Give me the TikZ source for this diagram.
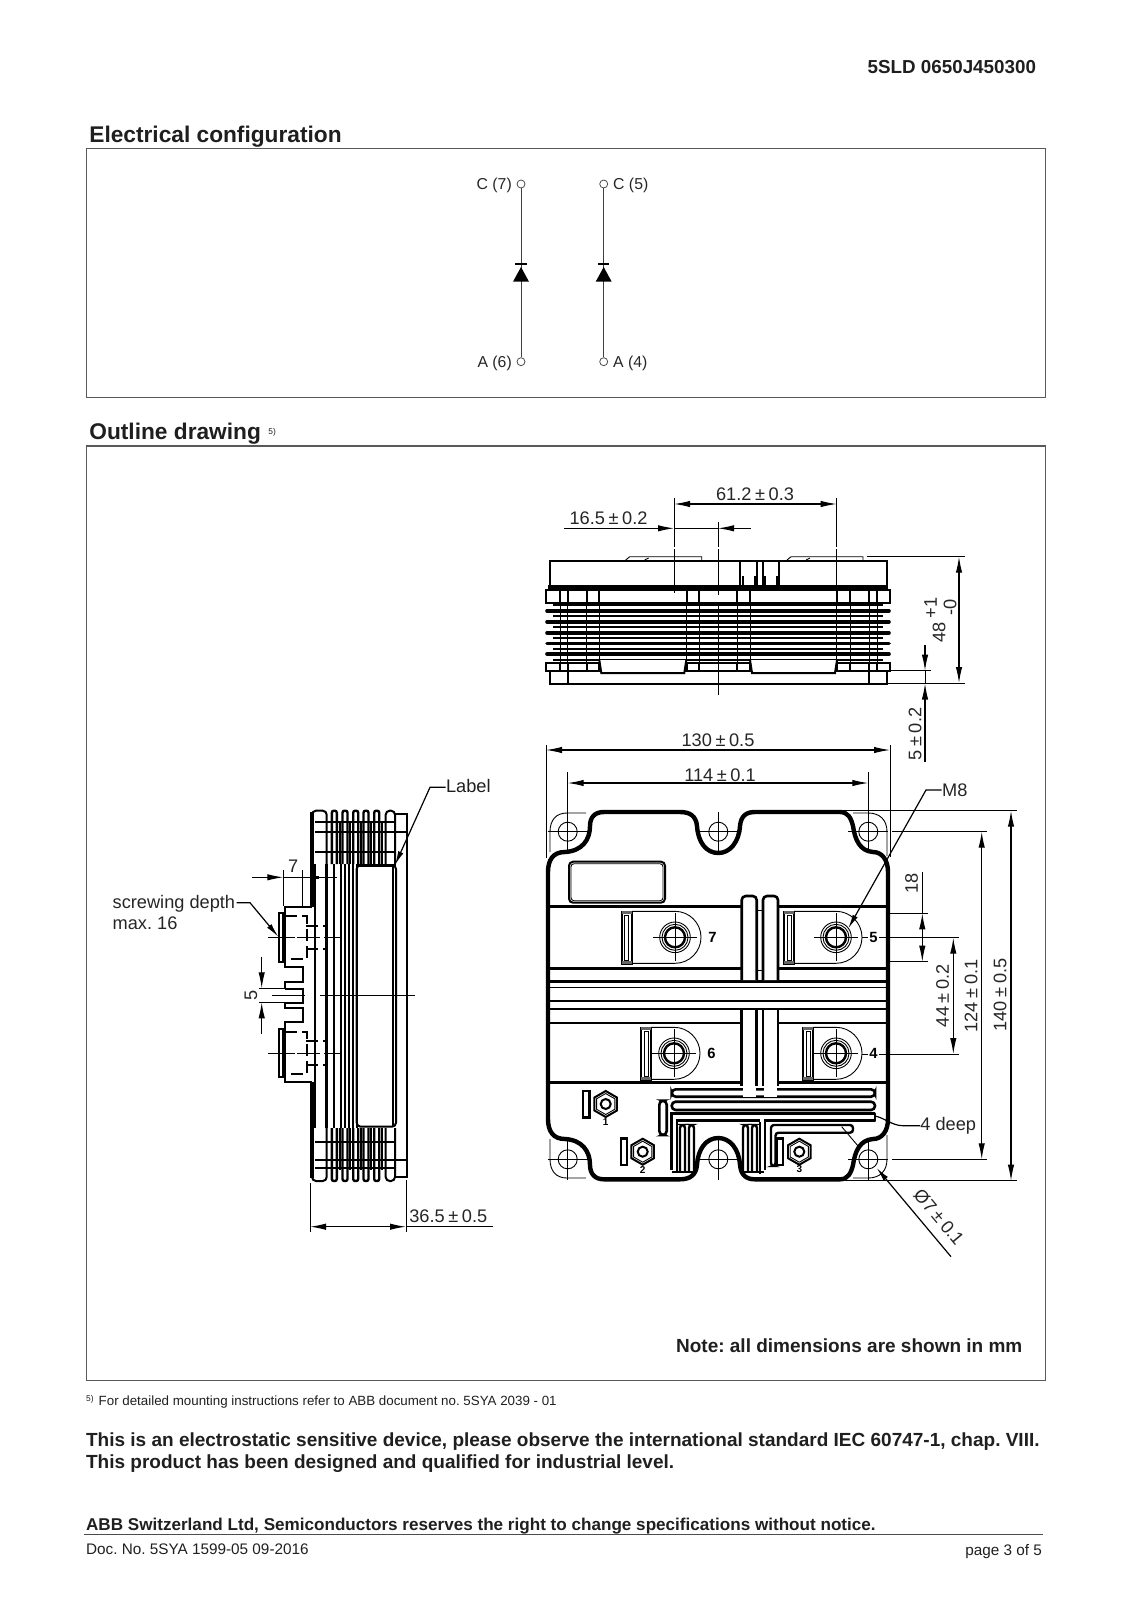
\documentclass[tikz,border=0pt]{standalone}
\usepackage{fontspec}
\setmainfont{Liberation Sans}
\usetikzlibrary{calc, positioning, arrows.meta, shapes.geometric}
\AtBeginDocument{\frenchspacing}
\newcommand{\pmg}{\hspace{1.8pt}±\hspace{1.8pt}}
\tikzset{
  txt/.style={inner sep=0, anchor=base west, text=black!88},
  dimtxt/.style={inner sep=0, font=\fontsize{9.1}{10}\selectfont, text=black!85},
  boldtxt/.style={txt, font=\fontsize{9.5}{11}\selectfont\bfseries},
  frame/.style={draw=black!65, line width=.6pt},
  thinl/.style={line width=.45pt},
  medl/.style={line width=1pt},
  thkl/.style={line width=2.2pt},
  dimarr/.style={line width=.55pt, {Latex[length=8pt,width=3.2pt]}-{Latex[length=8pt,width=3.2pt]}},
  onearr/.style={line width=.55pt, -{Latex[length=8pt,width=3.2pt]}},
  leader/.style={line width=.6pt, -{Latex[length=7pt,width=2.8pt]}},
  hidden/.style={medl, dash pattern=on 6pt off 2.5pt},
  pin/.style={circle, draw=black!70, line width=.4pt, fill=white, minimum size=4pt, inner sep=0},
  nut/.style={regular polygon, regular polygon sides=6, regular polygon rotate=30, draw, medl, minimum size=13pt, inner sep=0},
}
\begin{document}
\begin{tikzpicture}[x=.5pt, y=-.5pt]
\useasboundingbox (0,0) rectangle (1131,1600);
% frames and page text %
\draw[frame] (86.4,148.3) rectangle (1045.7,397.6);
\draw[frame] (86.4,446) rectangle (1045.7,1380.3);
\node[txt, font=\fontsize{9.4}{11}\selectfont\bfseries] (docid) at (867.3,73.7) {5SLD 0650J450300};
\node[txt, font=\fontsize{11.35}{13}\selectfont\bfseries] (title1) at (89,142.7) {Electrical configuration};
\node[txt, font=\fontsize{11.35}{13}\selectfont\bfseries] (title2) at (89,439.8) {Outline drawing};
\node[txt, font=\fontsize{4.2}{5}\selectfont] (mark5) at (268,434) {5)};
\node[txt, font=\fontsize{4.2}{5}\selectfont] (foot5) at (85.7,1401) {5)};
\node[txt, font=\fontsize{6.67}{8}\selectfont] (foot) at (98.3,1405) {For detailed mounting instructions refer to ABB document no. 5SYA 2039 - 01};
\node[boldtxt] (note) at (675.7,1352.3) {Note: all dimensions are shown in mm};
\node[boldtxt] (esd) at (85.7,1446.7) {This is an electrostatic sensitive device, please observe the international standard IEC 60747-1, chap. VIII.};
\node[boldtxt] (qual) at (85.7,1468.3) {This product has been designed and qualified for industrial level.};
\node[txt, font=\fontsize{8.55}{10}\selectfont\bfseries] (abb) at (85.7,1530) {ABB Switzerland Ltd, Semiconductors reserves the right to change specifications without notice.};
\draw[line width=.5pt, draw=black!70] (84,1534) -- (1043,1534);
\node[txt, font=\fontsize{7.65}{9}\selectfont] (docno) at (85.7,1554.3) {Doc. No. 5SYA 1599-05 09-2016};
\node[txt, anchor=base east, font=\fontsize{7.65}{9}\selectfont] (pageno) at (1042.3,1555) {page 3 of 5};
% electrical configuration %
\node[pin] (c7) at (521,184) {};
\node[pin] (a6) at (521,361.7) {};
\node[pin] (c5) at (603.7,184) {};
\node[pin] (a4) at (603.7,361.7) {};
\node[dimtxt, font=\fontsize{7.9}{9}\selectfont, anchor=east] (c7txt) at (512.2,185.5) {C (7)};
\node[dimtxt, font=\fontsize{7.9}{9}\selectfont, anchor=east] (a6txt) at (512.2,363.2) {A (6)};
\node[dimtxt, font=\fontsize{7.9}{9}\selectfont, anchor=west] (c5txt) at (612.8,185.5) {C (5)};
\node[dimtxt, font=\fontsize{7.9}{9}\selectfont, anchor=west] (a4txt) at (612.8,363.2) {A (4)};
\draw[line width=.5pt, draw=black!75] (c7) -- (a6);
\draw[line width=.5pt, draw=black!75] (c5) -- (a4);
\foreach \dx in {521,603.7} {
  \fill (\dx-8,281.7) -- (\dx+8,281.7) -- (\dx,267) -- cycle;
  \draw[line width=.6pt] (\dx-5.7,264) -- (\dx+5.7,264);
}
% top view %
\draw[line width=1.1pt] (550,587) -- (550,561) -- (886.7,561) -- (886.7,587);
\fill (548,585) rectangle (888,590.5);
\foreach \ta in {625.7,787} {
  \draw[thinl] (\ta,560) -- (\ta+4,556.7) -- (\ta+76,556.7) -- (\ta+76,560);
  \draw[thinl] (\ta+19,560) -- (\ta+23,558);
}
\foreach \nx in {740,756.7,763,779} \draw[medl] (\nx,561) -- (\nx,585);
\foreach \nx in {743,755,765,777} \draw[medl] (\nx,576) -- (\nx,585);
\foreach \vx in {560,567.7,586.7,599.3,686.7,699.3,737.3,750,836.7,850,869,877} \draw[thinl] (\vx,590) -- (\vx,670.7);
\draw[medl] (546,590) rectangle (890,602.7);
\draw[medl] (546,663) rectangle (890,670.7);
\draw[medl] (550,670.7) -- (550,684) -- (886.7,684) -- (886.7,670.7);
\foreach \fy in {610.7,621.7,632.7,643.3,654} \draw[line width=1.8pt, line cap=round] (547,\fy) -- (889,\fy);
\foreach \fy in {605,616,627,638,649,659.5} \draw[medl] (553,\fy) -- (883,\fy);
\foreach \vx in {560,567.7,586.7,599.3,686.7,699.3,737.3,750,836.7,850,869,877} {
  \draw[medl] (\vx,590) -- (\vx,603);
  \draw[medl] (\vx,663) -- (\vx,670.7);
}
\foreach \vx in {567.7,869} \draw[medl] (\vx,670.7) -- (\vx,684);
\foreach \rx in {599.3,750} \draw[medl, fill=white] (\rx,660) -- (\rx+2,673) -- (\rx+85,673) -- (\rx+87,660);
% top view dimensions %
\coordinate (d61a) at (674,504);
\coordinate (d61b) at (836.7,504);
\draw[dimarr] (d61a) -- (d61b);
\draw[thinl] (674,498) -- (674,547) (674,549) -- (674,593);
\draw[thinl] (836.7,498) -- (836.7,547) (836.7,549) -- (836.7,593);
\draw[thinl] (718,522) -- (718,547) (718,549) -- (718,595) (718,603) -- (718,695);
\node[dimtxt] (d61txt) at (755,494) {61.2\pmg0.3};
\coordinate (d16a) at (564,528.3);
\coordinate (d16b) at (674,528.3);
\coordinate (d16c) at (750.7,528.3);
\coordinate (d16d) at (718,528.3);
\draw[onearr] (d16a) -- (d16b);
\draw[onearr] (d16c) -- (d16d);
\draw[thinl] (d16b) -- (d16d);
\node[dimtxt] (d16txt) at (608.5,518) {16.5\pmg0.2};
\coordinate (d48a) at (959,556.7);
\coordinate (d48b) at (959,683);
\draw[dimarr] (d48a) -- (d48b);
\draw[thinl] (866.7,556.7) -- (965,556.7);
\draw[thinl] (886.7,683.5) -- (965,683.5);
\node[dimtxt, rotate=90] (d48txt) at (939,632) {48};
\node[dimtxt, rotate=90] (d48p) at (930.7,608) {+1};
\node[dimtxt, rotate=90] (d48m) at (950,607) {-0};
\coordinate (d5a) at (925,645);
\coordinate (d5b) at (925,670.7);
\coordinate (d5c) at (925,762);
\coordinate (d5d) at (925,683.5);
\draw[onearr] (d5a) -- (d5b);
\draw[onearr] (d5c) -- (d5d);
\draw[thinl] (d5b) -- (d5d);
\draw[thinl] (890,670.7) -- (931,670.7);
\node[dimtxt, rotate=90] (d5txt) at (915,734) {5\pmg0.2};
% front view dimensions %
\coordinate (d130a) at (546,750);
\coordinate (d130b) at (890,750);
\draw[dimarr] (d130a) -- (d130b);
\draw[thinl] (546,745) -- (546,858) (890,745) -- (890,857);
\node[dimtxt] (d130txt) at (718,740) {130\pmg0.5};
\coordinate (d114a) at (567.7,783);
\coordinate (d114b) at (868.3,783);
\draw[dimarr] (d114a) -- (d114b);
\node[dimtxt] (d114txt) at (720,775) {114\pmg0.1};
\coordinate (d140a) at (1011,810.7);
\coordinate (d140b) at (1011,1180.7);
\draw[dimarr] (d140a) -- (d140b);
\draw[thinl] (842,810.7) -- (1017,810.7) (845,1180.7) -- (1017,1180.7);
\node[dimtxt, rotate=90] (d140txt) at (1000,995) {140\pmg0.5};
\coordinate (d124a) at (981.7,831.7);
\coordinate (d124b) at (981.7,1159.3);
\draw[dimarr] (d124a) -- (d124b);
\draw[thinl] (891.7,831.7) -- (987.3,831.7) (891.7,1159.3) -- (987.3,1159.3);
\node[dimtxt, rotate=90] (d124txt) at (971,996) {124\pmg0.1};
\coordinate (d44a) at (953.3,937.7);
\coordinate (d44b) at (953.3,1054);
\draw[dimarr] (d44a) -- (d44b);
\draw[thinl] (862,937.7) -- (959.3,937.7) (862,1054) -- (959.3,1054);
\node[dimtxt, rotate=90] (d44txt) at (942.7,995.7) {44\pmg0.2};
\coordinate (d18a) at (922.3,913.3);
\coordinate (d18b) at (922.3,961.7);
\draw[dimarr] (d18a) -- (d18b);
\draw[thinl] (922.3,871.7) -- (d18a);
\draw[thinl] (888,913.3) -- (928.3,913.3) (888,961.7) -- (928.3,961.7);
\node[dimtxt, rotate=90] (d18txt) at (911.7,883.3) {18};
% front view outline %
\draw[thkl, line join=round] (548,872) .. controls (548,860) and (553,852) .. (565,852)
  .. controls (582,851) and (590,840) .. (590,826) .. controls (590,817) and (595,812) .. (604,812)
  -- (680,812) .. controls (690,812) and (696,816) .. (697,826) .. controls (698,842) and (706,853) .. (718.3,853)
  .. controls (730,853) and (739,842) .. (740,826) .. controls (741,816) and (746,812) .. (755,812)
  -- (840,812) .. controls (848,812) and (851,818) .. (853,826) .. controls (855,840) and (860,851) .. (873,852)
  .. controls (882,852) and (888,860) .. (888,872) -- (888,1119)
  .. controls (888,1131) and (882,1139) .. (873,1139) .. controls (860,1140) and (855,1151) .. (853,1165)
  .. controls (851,1173) and (848,1179.3) .. (840,1179.3) -- (755,1179.3)
  .. controls (746,1179.3) and (741,1175) .. (740,1165) .. controls (739,1149) and (730,1138) .. (718.3,1138)
  .. controls (706,1138) and (698,1149) .. (697,1165) .. controls (696,1175) and (690,1179.3) .. (680,1179.3)
  -- (604,1179.3) .. controls (595,1179.3) and (590,1174) .. (590,1165) .. controls (590,1151) and (582,1140) .. (565,1139)
  .. controls (553,1139) and (548,1131) .. (548,1119) -- cycle;
% corner lugs %
\draw[thinl] (550,852) -- (550,832) .. controls (550,820) and (556,813) .. (567,813) -- (586,813);
\draw[thinl] (853,813) -- (868,813) .. controls (880,813) and (887,820) .. (887,832) -- (887,856);
\draw[thinl] (550,1139) -- (550,1159) .. controls (550,1171) and (556,1178) .. (567,1178) -- (586,1178);
\draw[thinl] (853,1178) -- (868,1178) .. controls (880,1178) and (887,1171) .. (887,1159) -- (887,1135);
% holes %
\foreach \hx/\hn in {567.7/tl,718.3/tm,868.3/tr} {
  \node[circle, draw, thinl, minimum size=9.5pt, inner sep=0] (hole\hn) at (\hx,831.7) {};
  \draw[thinl] (\hx-20,831.7) -- (\hx+20,831.7);
  \draw[thinl] (\hx,812) -- (\hx,852);
}
\foreach \hx/\hn in {567.7/bl,718.3/bm,868.3/br} {
  \node[circle, draw, thinl, minimum size=9.5pt, inner sep=0] (hole\hn) at (\hx,1159.3) {};
  \draw[thinl] (\hx-20,1159.3) -- (\hx+20,1159.3);
  \draw[thinl] (\hx,1139) -- (\hx,1180);
}
\draw[thinl] (567.7,772) -- (567.7,812) (868.3,772) -- (868.3,812);
% label plate %
\draw[medl, rounded corners=2pt] (569,861.7) rectangle (665,902.7);
\draw[thinl, rounded corners=1.5pt] (571,863.7) rectangle (663,900.7);
% busbar bands %
\draw[line width=1.4pt] (548,906.7) -- (888,906.7);
\draw[line width=1.4pt] (548,968.3) -- (888,968.3);
\draw[line width=1.4pt] (548,981.7) -- (888,981.7);
\draw[thinl] (548,987.5) -- (888,987.5);
\draw[line width=1.4pt] (548,1001) -- (888,1001);
\draw[line width=1.4pt] (548,1009) -- (888,1009);
\draw[medl] (548,1022.7) -- (888,1022.7);
\draw[line width=1.4pt] (548,1082.7) -- (888,1082.7);
% ribs %
\fill[white] (756.7,902) rectangle (763,972);
\fill[white] (756.7,1012) rectangle (763,1086);
\foreach \rx in {741.7,763} {
  \draw[line width=1.3pt, fill=white, rounded corners=2pt] (\rx,980) -- (\rx,896) -- (\rx+15,896) -- (\rx+15,980);
  \fill[white] (\rx,1010) rectangle (\rx+15,1090);
  \draw[line width=1.3pt] (\rx,1010) -- (\rx,1086) (\rx+15,1010) -- (\rx+15,1086);
}
\draw[thinl] (756.7,910) -- (763,910) (756.7,970) -- (763,970);
% terminals %
\foreach \cx/\cy/\bx/\tn in {675/937.3/621.7/7,836/937.3/784/5,674/1053.3/641/6,836/1053.3/803.3/4} {
  \draw[thinl] (\bx+10,\cy-26) -- (\cx,\cy-26) arc (-90:90:26) -- (\bx+10,\cy+26);
  \draw[medl] (\bx,\cy-25.5) rectangle (\bx+10,\cy+26.5);
  \draw[thinl] (\bx+3,\cy-22) rectangle (\bx+7,\cy+23);
  \fill[black!60] (\bx,\cy-26) rectangle (\bx+10,\cy-23);
  \fill[black!60] (\bx,\cy+24) rectangle (\bx+10,\cy+27);
  \draw[thinl] (\cx,\cy) circle (15.3);
  \draw[thinl] (\cx,\cy) circle (13);
  \draw[line width=1.2pt] (\cx,\cy) circle (10);
  \draw[thinl] (\cx-22,\cy) -- (\cx+22,\cy);
  \draw[thinl] (\cx,\cy-24) -- (\cx,\cy+24);
  \node[inner sep=0, font=\fontsize{7.4}{8}\selectfont\bfseries, fill=white, inner xsep=.5pt] (num\tn) at (\cx+37.5,\cy+.4) {\tn};
}
% nuts %
\foreach \nx/\ny/\bx/\nn in {605.7/1104/583/1,642.7/1151.7/620.7/2,799.3/1151.7/776.7/3} {
  \node[nut] (nut\nn) at (\nx,\ny) {};
  \node[regular polygon, regular polygon sides=6, regular polygon rotate=30, draw, thinl, minimum size=10.5pt, inner sep=0] (nin\nn) at (\nx,\ny) {};
  \node[circle, draw, medl, minimum size=5pt, inner sep=0] (ncr\nn) at (\nx,\ny) {};
  \draw[line width=1.2pt] (\bx,\ny-13.3) rectangle (\bx+6.5,\ny+13.3);
  \node[inner sep=0, font=\fontsize{5}{5}\selectfont\bfseries] (ntx\nn) at (\nx,\ny+17.8) {\nn};
}
% grooves %
\draw[line width=1.3pt, fill=white, rounded corners=2pt] (671.7,1089.3) rectangle (875,1096.7);
\draw[line width=1.3pt, fill=white, rounded corners=2pt] (671.7,1101.7) rectangle (875,1110);
\fill[white] (742.7,1086) rectangle (755.7,1097);
\fill[white] (764,1086) rectangle (777,1097);
\draw[line width=1.3pt, rounded corners=2pt] (659.3,1100.7) rectangle (666.7,1135);
\draw[line width=1.4pt] (875,1120.7) -- (765,1120.7) -- (765,1170);
\draw[line width=1.4pt] (875,1113.7) -- (671.7,1113.7) -- (671.7,1170);
\draw[line width=1.4pt] (760,1120.7) -- (677,1120.7) -- (677,1172);
\draw[line width=1.4pt, line cap=round] (875,1113.7) -- (875,1120.7);
\foreach \gx in {680,689,743,752} \draw[line width=1.2pt, rounded corners=1.5pt] (\gx,1172) -- (\gx,1125) -- (\gx+5,1125) -- (\gx+5,1172);
\draw[line width=1.2pt] (759.7,1122) -- (759.7,1174);
\draw[line width=1.2pt, rounded corners=1.5pt] (771,1166) -- (771,1125) -- (853,1125) -- (853,1132.7) -- (775.5,1132.7) -- (775.5,1166) -- cycle;
\draw[line width=1.4pt] (671.7,1172) -- (693,1172) (743,1172) -- (764,1172);
% leaders, front view %
\node[dimtxt, anchor=west] (m8txt) at (941.7,790) {M8};
\coordinate (m8tip) at (848.3,928.3);
\draw[leader] (m8txt.west) -- (926,790) -- (m8tip);
\node[dimtxt, anchor=west] (deeptxt) at (920,1125.7) {4 deep};
\coordinate (deepend) at (875,1116);
\draw[line width=.6pt] (deeptxt.west) -- (903,1125.7) .. controls (892,1125.7) and (885,1118) .. (deepend);
\coordinate (phitip) at (876.7,1168);
\coordinate (phiend) at (951,1256.7);
\draw[leader] (phiend) -- (phitip);
\draw[thinl] (841.7,1126.7) -- (860,1148.3);
\node[dimtxt, rotate=-50] (phitxt) at (939,1217) {Ø7\pmg0.1};
% side view body %
\foreach \vx in {326.7,345,353} \draw[line width=1.4pt] (\vx,864) -- (\vx,1128);
\foreach \vx in {315,334.3,341,349,356.7} \draw[medl] (\vx,864) -- (\vx,1128);
\draw[medl, rounded corners=2pt] (356.7,865) rectangle (396,1126.7);
\draw[medl] (393.3,866) -- (393.3,1125.7);
\draw[line width=1.2pt, rounded corners=2pt] (356.7,865.5) -- (396,865.5);
\draw[medl] (395,814) -- (406.7,814) -- (406.7,1177) -- (395,1177);
\draw[medl] (395,832.3) -- (406.7,832.3) (395,1160) -- (406.7,1160);
\draw[thkl] (311.7,812) -- (311.7,906.7) (311.7,1081.7) -- (311.7,1178);
\draw[medl, rounded corners=2pt] (312,864) -- (312,810.7) -- (326.7,810.7) -- (326.7,864);
\draw[medl, rounded corners=2pt] (312,1128) -- (312,1181) -- (326.7,1181) -- (326.7,1128);
\draw[medl, rounded corners=2pt] (385.7,864) -- (385.7,810.7) -- (395,810.7) -- (395,864);
\draw[medl, rounded corners=2pt] (385.7,1128) -- (385.7,1181) -- (395,1181) -- (395,1128);
\foreach \fx in {334.3,345,355.7,366,376.7} {
  \draw[line width=1.2pt, rounded corners=1pt] (\fx-2.5,864) -- (\fx-2.5,810.7) -- (\fx+2.5,810.7) -- (\fx+2.5,864);
  \draw[line width=1.2pt, rounded corners=1pt] (\fx-2.5,1128) -- (\fx-2.5,1181) -- (\fx+2.5,1181) -- (\fx+2.5,1128);
  \draw[medl] (\fx+5.2,821.7) -- (\fx+5.2,864) (\fx+5.2,1128) -- (\fx+5.2,1170);
}
\foreach \hy in {821.7,832.3,851.7,1141.7,1160,1168} \draw[medl] (315,\hy) -- (395,\hy);
% side view terminals %
\draw[line width=1.1pt] (311.7,906.7) -- (285,906.7) -- (285,966.7) -- (303,966.7) -- (303,981.7) -- (285,981.7) -- (285,988);
\draw[line width=1pt] (285,988.5) -- (303,988.5) -- (303,1002.5) -- (285,1002.5);
\draw[line width=1.1pt] (285,1002.5) -- (285,1008) -- (303,1008) -- (303,1021.7) -- (285,1021.7) -- (285,1081.7) -- (311.7,1081.7);
\foreach \sy in {937.7,1053.3} {
  \draw[medl] (279,\sy-24.5) rectangle (283,\sy+24);
  \draw[hidden] (285,\sy-21.5) -- (306.7,\sy-21.5) -- (306.7,\sy+21) -- (285,\sy+21);
  \draw[hidden] (306,\sy-12) -- (325,\sy-12) (306,\sy+11.5) -- (325,\sy+11.5);
  \draw[thinl] (268,\sy) -- (295,\sy) (297,\sy) -- (320,\sy) (324,\sy) -- (341.7,\sy);
}
\draw[thinl] (271.7,995.3) -- (305,995.3) (320,995.3) -- (415,995.3);
% side view dimensions %
\coordinate (d7a) at (251.7,877.3);
\coordinate (d7b) at (283.3,877.3);
\coordinate (d7c) at (336.7,877.3);
\coordinate (d7d) at (311.7,877.3);
\draw[onearr] (d7a) -- (d7b);
\draw[thinl] (d7b) -- (d7c);
\fill (311.7,875.5) rectangle (318.5,879.1);
\draw[thinl] (283.3,870) -- (283.3,906) (302.3,870) -- (302.3,906);
\node[dimtxt] (d7txt) at (293.3,866.7) {7};
\coordinate (d5sa) at (261.7,956.7);
\coordinate (d5sb) at (261.7,988.3);
\coordinate (d5sc) at (261.7,1034.3);
\coordinate (d5sd) at (261.7,1002.3);
\draw[onearr] (d5sa) -- (d5sb);
\draw[onearr] (d5sc) -- (d5sd);
\draw[thinl] (259,988.3) -- (285,988.3) (259,1002.3) -- (285,1002.3);
\node[dimtxt, rotate=90] (d5stxt) at (251,995.7) {5};
\coordinate (d36a) at (310,1226.7);
\coordinate (d36b) at (406,1226.7);
\draw[dimarr] (d36a) -- (d36b);
\draw[line width=.55pt] (d36b) -- (492.7,1226.7);
\draw[thinl] (310,1183) -- (310,1232) (406,1180) -- (406,1232);
\node[dimtxt] (d36txt) at (448.3,1216) {36.5\pmg0.5};
% side view leaders %
\node[txt, font=\fontsize{9.1}{10}\selectfont] (labeltxt) at (445.7,792.5) {Label};
\coordinate (labeltip) at (395,865);
\draw[leader] (labeltxt.west |- 0,787.3) -- (430,787.3) -- (labeltip);
\node[dimtxt, align=left, anchor=north west, font=\fontsize{9.1}{10.4}\selectfont] (screwtxt) at (112.3,895) {screwing depth\\max. 16};
\coordinate (screwtip) at (278.3,936.7);
\draw[leader] (236.7,902.7) -- (250,902.7) -- (screwtip);
\end{tikzpicture}
\end{document}
